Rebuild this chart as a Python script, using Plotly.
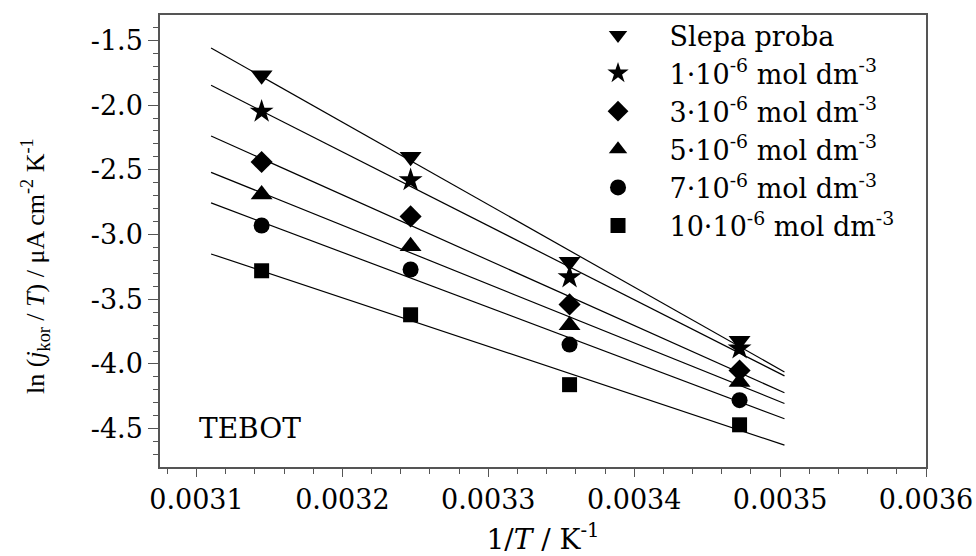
import numpy as np
import plotly.graph_objects as go

# Data
temps_K = [318, 308, 298, 288]
inv_T = [1.0 / t for t in temps_K]
series_names = [
    "Slepa proba",
    "1·10<sup>-6</sup> mol dm<sup>-3</sup>",
    "3·10<sup>-6</sup> mol dm<sup>-3</sup>",
    "5·10<sup>-6</sup> mol dm<sup>-3</sup>",
    "7·10<sup>-6</sup> mol dm<sup>-3</sup>",
    "10·10<sup>-6</sup> mol dm<sup>-3</sup>",
]
y_slepa = [-1.77, -2.40, -3.21, -3.82]
y_c1 = [-2.05, -2.58, -3.33, -3.88]
y_c3 = [-2.44, -2.86, -3.54, -4.05]
y_c5 = [-2.69, -3.09, -3.70, -4.14]
y_c7 = [-2.93, -3.27, -3.85, -4.28]
y_c10 = [-3.28, -3.62, -4.16, -4.47]
all_series = [y_slepa, y_c1, y_c3, y_c5, y_c7, y_c10]
fit_range = [0.00311, 0.003503]

y_tick_vals = [-4.5, -4.0, -3.5, -3.0, -2.5, -2.0, -1.5]
y_tick_text = ["-4.5", "-4.0", "-3.5", "-3.0", "-2.5", "-2.0", "-1.5"]
x_tick_vals = [0.0031, 0.0032, 0.0033, 0.0034, 0.0035, 0.0036]
x_tick_text = ["0.0031", "0.0032", "0.0033", "0.0034", "0.0035", "0.0036"]

y_title = "ln (<i>j</i><sub>kor</sub> / <i>T</i>) / μA cm<sup>-2</sup> K<sup>-1</sup>"
x_title = "1/<i>T</i> / K<sup>-1</sup>"

symbols = ["triangle-down", "star", "diamond", "triangle-up", "circle", "square"]
sizes = [19, 18, 17, 19, 16, 15]

FONT = "DejaVu Serif"
FONT_Y = "Liberation Serif"

fig = go.Figure()

# Fitted lines
for ys in all_series:
    k, b = np.polyfit(inv_T, ys, 1)
    xs = np.array(fit_range)
    fig.add_trace(go.Scatter(x=xs, y=k * xs + b, mode="lines",
                             line=dict(color="black", width=1.2),
                             showlegend=False, hoverinfo="skip"))

for name, ys, sym, sz in zip(series_names, all_series, symbols, sizes):
    fig.add_trace(go.Scatter(x=inv_T, y=ys, mode="markers", name=name,
                             marker=dict(symbol=sym, size=sz, color="black",
                                         line=dict(width=0))))

fig.add_annotation(x=0.003137, y=-4.5, xref="x", yref="y", text="TEBOT",
                   showarrow=False, font=dict(family=FONT, size=28, color="black"))

# y-axis title
fig.add_annotation(x=-0.163, y=0.445, xref="paper", yref="paper", text=y_title,
                   textangle=-90, showarrow=False, xanchor="center", yanchor="middle",
                   font=dict(family=FONT_Y, size=26, color="black"))

axis_common = dict(showline=True, linecolor="#555", linewidth=1.5, mirror=True,
                   showgrid=False, zeroline=False, ticks="outside", automargin=False,
                   tickcolor="#555", tickwidth=1.2,
                   tickfont=dict(family=FONT, size=27, color="black"))

fig.update_xaxes(range=[0.003075, 0.0036], tickvals=x_tick_vals, ticktext=x_tick_text,
                 ticklen=8,
                 minor=dict(dtick=0.00002, tick0=0.0031, ticks="outside", ticklen=5,
                            tickcolor="#555", tickwidth=1),
                 title=dict(text=x_title,
                            font=dict(family=FONT, size=28, color="black"), standoff=22),
                 **axis_common)
fig.update_yaxes(range=[-4.796, -1.304], tickvals=y_tick_vals, ticktext=y_tick_text,
                 ticklen=10,
                 minor=dict(dtick=0.1, tick0=-1.5, ticks="outside", ticklen=5,
                            tickcolor="#555", tickwidth=1),
                 **axis_common)

fig.update_layout(
    width=976, height=556,
    margin=dict(l=160, r=50, t=15, b=89, autoexpand=False),
    plot_bgcolor="white", paper_bgcolor="white",
    font=dict(family=FONT, size=27, color="black"),
    legend=dict(x=0.5307, y=1.009, xanchor="left", yanchor="top",
                bgcolor="rgba(0,0,0,0)", font=dict(family=FONT, size=27),
                itemwidth=93, tracegroupgap=0),
)

fig.write_html("out.html")
